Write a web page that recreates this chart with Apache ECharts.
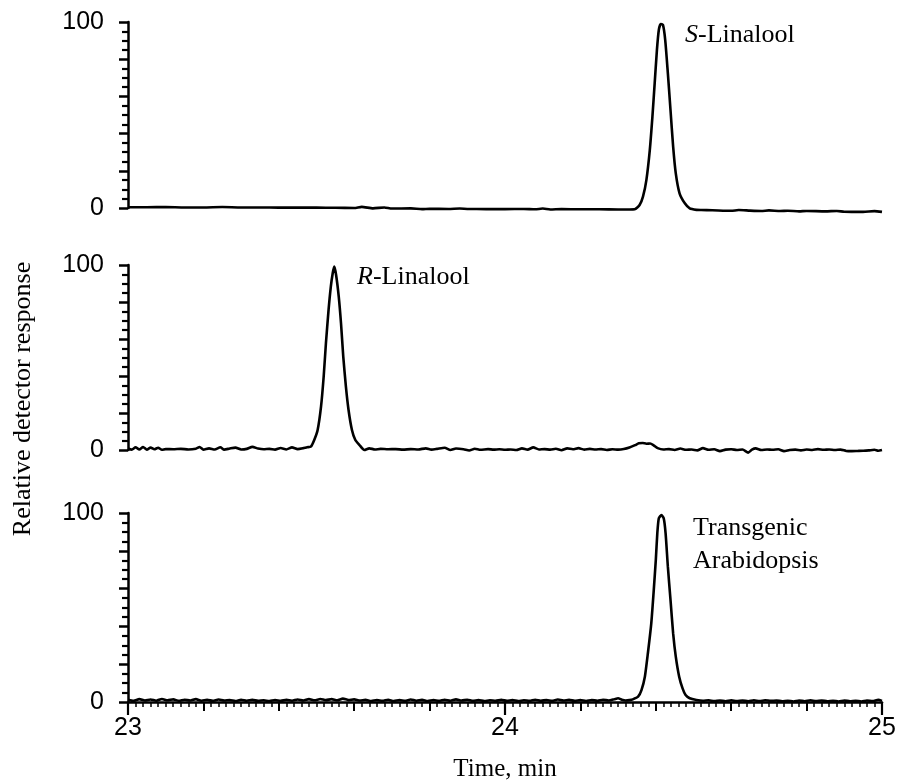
<!DOCTYPE html>
<html>
<head>
<meta charset="utf-8">
<script src="https://cdn.jsdelivr.net/npm/echarts@6/dist/echarts.min.js"></script>
<style>
    html, body { margin: 0; padding: 0; background: #fff; }
    #main { width: 902px; height: 783px; }
</style>
</head>
<body>
<div id="main"></div>
<script>
// 时间轴范围 / 刻度
var timeRange = [23, 25];
var timeLabels = [23, 24, 25];
var responseLabels = [0, 100];

// S-Linalool 标准品 [time, response]
var sTrace = [
    [23.00, 0.4], [23.05, 0.4], [23.10, 0.5], [23.15, 0.3], [23.20, 0.3], [23.25, 0.5],
    [23.30, 0.3], [23.35, 0.3], [23.40, 0.2], [23.45, 0.2], [23.50, 0.2], [23.55, 0.1],
    [23.60, 0.0], [23.62, 0.6], [23.65, -0.2], [23.68, 0.3], [23.70, -0.3], [23.75, -0.2],
    [23.78, -0.6], [23.80, -0.4], [23.85, -0.5], [23.88, -0.3], [23.90, -0.5], [23.95, -0.6],
    [24.00, -0.6], [24.05, -0.5], [24.08, -0.7], [24.10, -0.3], [24.12, -0.8], [24.15, -0.6],
    [24.20, -0.7], [24.25, -0.7], [24.30, -0.8], [24.33, -0.8],
    [24.344, -0.7], [24.357, 1.6], [24.366, 6.1], [24.375, 15], [24.384, 31], [24.391, 49],
    [24.397, 67], [24.403, 85], [24.408, 95.7], [24.413, 98.9], [24.419, 98.4], [24.425, 90.3],
    [24.432, 72.4], [24.439, 52.7], [24.446, 33], [24.453, 18.6], [24.463, 7.9], [24.477, 2.5],
    [24.490, -0.2], [24.508, -1.0],
    [24.52, -1.1], [24.55, -1.2], [24.60, -1.5], [24.62, -1.1], [24.65, -1.4], [24.68, -1.6],
    [24.70, -1.3], [24.73, -1.6], [24.75, -1.5], [24.78, -1.8], [24.80, -1.6], [24.85, -1.8],
    [24.88, -1.6], [24.90, -2.0], [24.95, -2.1], [24.98, -1.7], [25.00, -2.1]
];

// R-Linalool 标准品
var rTrace = [
    [23.000, 0.8], [23.010, 0.2], [23.020, 1.4], [23.030, 0.3], [23.040, 1.6], [23.050, 0.2],
    [23.060, 1.3], [23.070, 0.4], [23.080, 1.2], [23.090, 0.1], [23.100, 0.5], [23.120, 0.4],
    [23.140, 0.6], [23.160, 0.3], [23.180, 0.7], [23.190, 1.6], [23.200, 0.2], [23.215, 0.9],
    [23.230, 0.3], [23.245, 1.5], [23.255, 0.2], [23.270, 0.8], [23.285, 1.3], [23.300, 0.3],
    [23.315, 0.6], [23.330, 1.7], [23.345, 0.8], [23.360, 0.4], [23.375, 0.6], [23.390, 0.2],
    [23.405, 1.1], [23.420, 0.3], [23.435, 1.4], [23.450, 0.5], [23.465, 1.0], [23.475, 1.5],
    [23.485, 1.8], [23.494, 5.4], [23.503, 10.8], [23.512, 23.4], [23.519, 39.6], [23.525, 57.7],
    [23.532, 75.7], [23.538, 88.3], [23.543, 95.5], [23.547, 99.1], [23.552, 94.6], [23.559, 82.9],
    [23.565, 68.5], [23.571, 50.5], [23.578, 34.2], [23.585, 21.6], [23.594, 10.8], [23.603, 5.4],
    [23.614, 2.7], [23.627, 0.0],
    [23.640, 0.9], [23.655, 0.3], [23.670, 0.6], [23.690, 0.4], [23.710, 0.5], [23.730, 0.2],
    [23.750, 0.5], [23.770, 0.3], [23.790, 0.9], [23.805, 0.2], [23.820, 0.6], [23.840, 1.2],
    [23.855, 0.0], [23.870, 0.8], [23.890, 0.4], [23.905, -0.3], [23.920, 0.7], [23.935, 0.1],
    [23.955, 0.5], [23.970, 0.2], [23.985, 0.4], [24.000, 0.1], [24.015, 0.3], [24.030, 0.0],
    [24.045, 0.9], [24.060, 0.2], [24.075, 1.4], [24.090, 0.3], [24.105, 0.5], [24.120, 0.2],
    [24.135, 0.7], [24.150, -0.1], [24.165, 0.9], [24.180, 0.4], [24.195, 1.0], [24.210, 0.2],
    [24.225, 0.6], [24.240, 0.3], [24.255, 0.5], [24.270, 0.0], [24.285, 0.4], [24.300, 0.2],
    [24.315, 0.5], [24.330, 1.3], [24.345, 2.6], [24.355, 3.6], [24.365, 3.8], [24.375, 3.4],
    [24.385, 3.5], [24.395, 2.4], [24.405, 1.0], [24.420, 0.3], [24.435, 0.5], [24.450, 0.0],
    [24.465, 0.8], [24.480, 0.1], [24.495, 0.3], [24.510, -0.2], [24.525, 1.0], [24.540, 0.1],
    [24.555, 0.4], [24.570, -0.6], [24.585, 0.2], [24.600, 0.4], [24.615, 0.0], [24.630, 0.3],
    [24.645, -1.4], [24.655, 0.2], [24.665, 0.9], [24.680, 0.0], [24.695, 0.3], [24.710, 0.1],
    [24.725, 0.4], [24.740, -0.6], [24.755, 0.0], [24.770, 0.2], [24.785, -0.2], [24.800, 0.3],
    [24.815, 0.0], [24.830, 0.5], [24.845, 0.1], [24.860, 0.3], [24.875, 0.0], [24.890, 0.2],
    [24.905, -0.5], [24.920, -0.6], [24.935, -0.5], [24.950, -0.4], [24.965, -0.2], [24.980, 0.1],
    [24.990, -0.4], [25.000, 0.0]
];

// 转基因拟南芥样品
var tTrace = [
    [23.000, 1.2], [23.015, 0.6], [23.030, 1.5], [23.045, 0.8], [23.060, 1.3], [23.075, 0.7],
    [23.090, 1.6], [23.105, 0.9], [23.120, 1.4], [23.135, 0.6], [23.150, 1.2], [23.165, 0.8],
    [23.180, 1.5], [23.195, 0.7], [23.210, 1.1], [23.225, 0.6], [23.240, 1.3], [23.255, 0.8],
    [23.270, 1.0], [23.285, 0.5], [23.300, 1.2], [23.315, 0.7], [23.330, 1.1], [23.345, 0.6],
    [23.360, 0.9], [23.375, 0.5], [23.390, 1.0], [23.405, 0.6], [23.420, 1.1], [23.435, 0.7],
    [23.450, 1.3], [23.465, 0.8], [23.480, 1.5], [23.495, 0.9], [23.510, 1.6], [23.525, 1.0],
    [23.540, 1.5], [23.555, 0.9], [23.570, 1.8], [23.585, 1.0], [23.600, 1.4], [23.615, 0.8],
    [23.630, 1.1], [23.645, 0.5], [23.660, 1.0], [23.675, 0.6], [23.690, 1.2], [23.705, 0.5],
    [23.720, 1.0], [23.735, 0.6], [23.750, 1.3], [23.765, 0.7], [23.780, 1.1], [23.795, 0.5],
    [23.810, 1.0], [23.825, 0.6], [23.840, 1.2], [23.855, 0.7], [23.870, 1.4], [23.885, 0.8],
    [23.900, 1.2], [23.915, 0.6], [23.930, 1.0], [23.945, 0.5], [23.960, 0.9], [23.975, 0.6],
    [23.990, 1.1], [24.005, 0.6], [24.020, 1.0], [24.035, 0.5], [24.050, 0.9], [24.065, 0.6],
    [24.080, 1.2], [24.095, 0.7], [24.110, 1.0], [24.125, 0.6], [24.140, 1.3], [24.155, 0.8],
    [24.170, 1.1], [24.185, 0.6], [24.200, 1.0], [24.215, 0.5], [24.230, 1.0], [24.245, 0.7],
    [24.260, 1.2], [24.275, 0.8], [24.290, 1.5], [24.300, 2.0], [24.310, 1.2], [24.320, 0.8],
    [24.330, 1.0],
    [24.339, 1.4], [24.353, 2.8], [24.362, 6.3], [24.371, 13.4], [24.379, 25.8], [24.388, 41.6],
    [24.394, 57.5], [24.400, 75.1], [24.404, 89.2], [24.408, 97.2], [24.415, 98.9], [24.421, 97.2],
    [24.426, 89.2], [24.432, 71.6], [24.439, 54.0], [24.446, 36.3], [24.453, 24.0], [24.462, 13.4],
    [24.471, 7.2], [24.479, 3.7], [24.490, 2.0], [24.508, 1.1],
    [24.525, 0.7], [24.540, 0.9], [24.555, 0.5], [24.570, 0.8], [24.585, 0.4], [24.600, 0.9],
    [24.615, 0.5], [24.630, 0.8], [24.645, 0.4], [24.660, 0.9], [24.675, 0.5], [24.690, 0.9],
    [24.705, 0.6], [24.720, 0.8], [24.735, 0.4], [24.750, 0.7], [24.765, 0.3], [24.780, 0.8],
    [24.795, 0.4], [24.810, 0.9], [24.825, 0.5], [24.840, 0.8], [24.855, 0.4], [24.870, 0.7],
    [24.885, 0.3], [24.900, 0.8], [24.915, 0.4], [24.930, 0.7], [24.945, 0.3], [24.960, 0.8],
    [24.975, 0.5], [24.990, 1.2], [25.000, 0.6]
];

(function() {
    var myChart = echarts.init(document.getElementById("main"));
    var sans = "Liberation Sans, Arial, sans-serif";
    var serif = "Liberation Serif, Times New Roman, serif";

    // 三个面板的位置
    var grids = [
        { left: 128, width: 754, top: 22, height: 186 },
        { left: 128, width: 754, top: 265, height: 185 },
        { left: 128, width: 754, top: 513, height: 189 }
    ];

    function yAxis(i) {
        return {
            type: "value",
            gridIndex: i,
            min: 0,
            max: 100,
            interval: 20,
            axisLine: { show: true, lineStyle: { color: "#000", width: 2.5 } },
            axisTick: { show: true, length: 9, lineStyle: { color: "#000", width: 2.5 } },
            minorTick: { show: true, splitNumber: 4, length: 6, lineStyle: { color: "#000", width: 2.2 } },
            splitLine: { show: false },
            minorSplitLine: { show: false },
            axisLabel: {
                color: "#000",
                fontSize: 25,
                fontFamily: sans,
                margin: 24,
                formatter: function(v) {
                    return responseLabels.indexOf(v) >= 0 ? String(v) : "";
                }
            }
        };
    }

    var xAxes = [
        { type: "value", gridIndex: 0, min: timeRange[0], max: timeRange[1], show: false },
        { type: "value", gridIndex: 1, min: timeRange[0], max: timeRange[1], show: false },
        // 底部面板：0.2 间隔刻度 + 细分刻度
        {
            type: "value",
            gridIndex: 2,
            min: timeRange[0],
            max: timeRange[1],
            interval: 0.2,
            axisLine: { show: true, onZero: false, lineStyle: { color: "#000", width: 2.5 } },
            axisTick: { show: true, length: 9, lineStyle: { color: "#000", width: 2 } },
            minorTick: { show: true, splitNumber: 10, length: 5, lineStyle: { color: "#000", width: 1.5 } },
            splitLine: { show: false },
            axisLabel: { show: false }
        },
        // 整数刻度和标签
        {
            type: "value",
            gridIndex: 2,
            position: "bottom",
            min: timeRange[0],
            max: timeRange[1],
            interval: 1,
            axisLine: { show: false, onZero: false },
            axisTick: { show: true, length: 13, lineStyle: { color: "#000", width: 2.2 } },
            splitLine: { show: false },
            axisLabel: {
                color: "#000",
                fontSize: 25,
                fontFamily: sans,
                margin: 14,
                formatter: function(v) {
                    return timeLabels.indexOf(v) >= 0 ? String(v) : "";
                }
            }
        }
    ];

    function trace(data, xi, yi) {
        return {
            type: "line",
            xAxisIndex: xi,
            yAxisIndex: yi,
            data: data,
            showSymbol: false,
            clip: false,
            silent: true,
            smooth: 0.2,
            lineStyle: { color: "#000", width: 2.6 },
            z: 3
        };
    }

    var option = {
        animation: false,
        backgroundColor: "#fff",
        grid: grids,
        xAxis: xAxes,
        yAxis: [yAxis(0), yAxis(1), yAxis(2)],
        series: [
            trace(sTrace, 0, 0),
            trace(rTrace, 1, 1),
            trace(tTrace, 2, 2)
        ],
        graphic: [
            {
                type: "text",
                left: 685, top: 22,
                style: {
                    text: "{i|S}-Linalool",
                    fontSize: 26, fontFamily: serif, fill: "#000",
                    rich: { i: { fontStyle: "italic", fontSize: 26, fontFamily: serif } }
                }
            },
            {
                type: "text",
                left: 357, top: 264,
                style: {
                    text: "{i|R}-Linalool",
                    fontSize: 26, fontFamily: serif, fill: "#000",
                    rich: { i: { fontStyle: "italic", fontSize: 26, fontFamily: serif } }
                }
            },
            {
                type: "text",
                left: 693, top: 512,
                style: {
                    text: "Transgenic\nArabidopsis",
                    fontSize: 26, lineHeight: 33, fontFamily: serif, fill: "#000"
                }
            },
            {
                type: "text",
                x: 23, y: 399,
                rotation: Math.PI / 2,
                style: {
                    text: "Relative detector response",
                    fontSize: 26, fontFamily: serif, fill: "#000",
                    align: "center", verticalAlign: "middle"
                }
            },
            {
                type: "text",
                x: 505, y: 769,
                style: {
                    text: "Time, min",
                    fontSize: 25, fontFamily: serif, fill: "#000",
                    align: "center", verticalAlign: "middle"
                }
            }
        ]
    };

    myChart.setOption(option);
    window.addEventListener("resize", function() {
        myChart.resize();
    });
})();
</script>
</body>
</html>
